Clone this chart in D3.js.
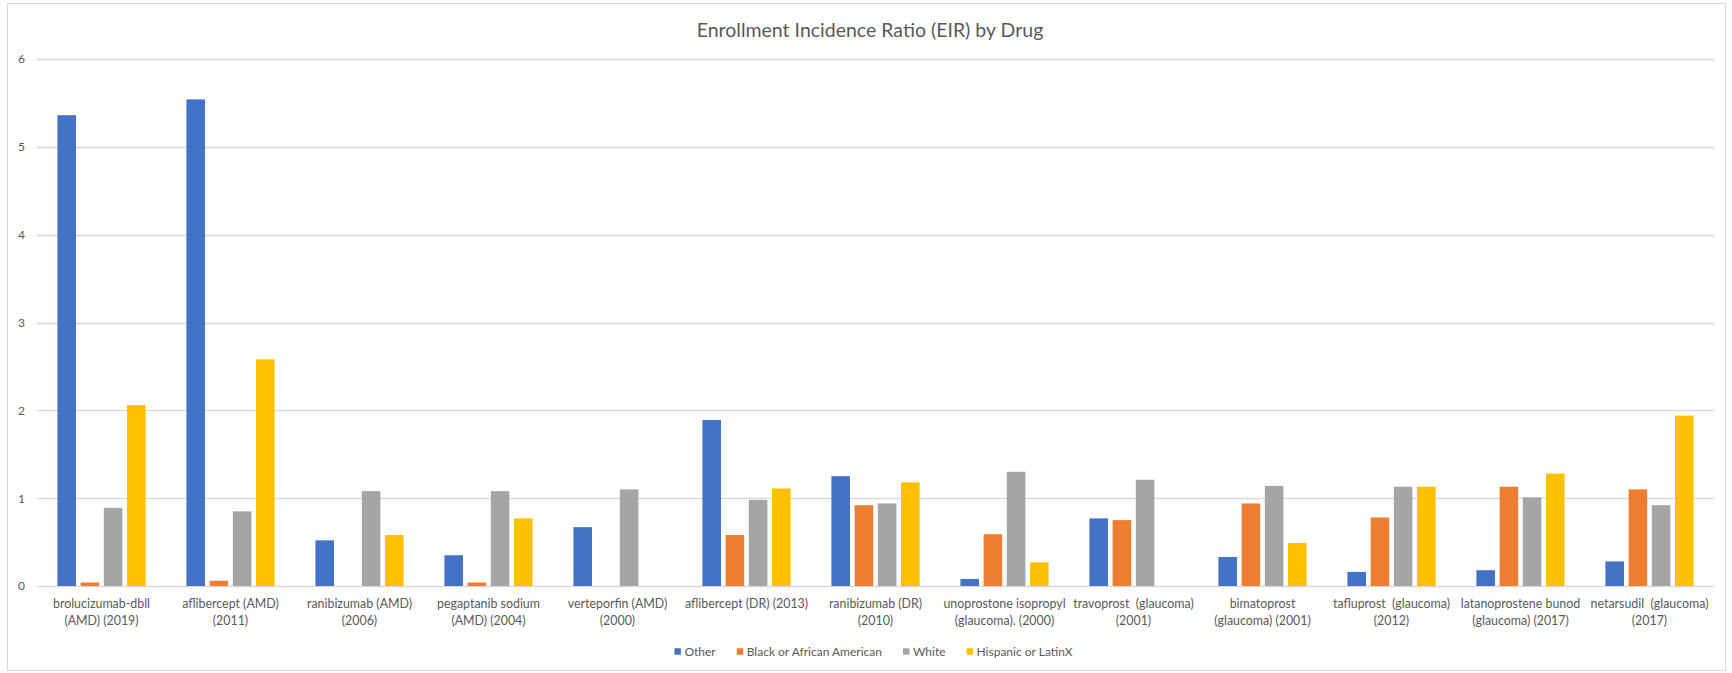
<!DOCTYPE html>
<html>
<head>
<meta charset="utf-8">
<title>Enrollment Incidence Ratio (EIR) by Drug</title>
<script src="https://cdn.jsdelivr.net/npm/d3@7"></script>
<style>
  html, body { margin: 0; padding: 0; background: #fff; }
  svg { display: block; font-family: Lato, "Open Sans", sans-serif; }
</style>
</head>
<body>
<script>
// Drug categories, one entry per wrapped tick label (line 1, line 2)
const drugLabels = [
  ["brolucizumab-dbll", "(AMD) (2019)"],
  ["aflibercept (AMD)", "(2011)"],
  ["ranibizumab (AMD)", "(2006)"],
  ["pegaptanib sodium", "(AMD) (2004)"],
  ["verteporfin (AMD)", "(2000)"],
  ["aflibercept (DR) (2013)"],
  ["ranibizumab (DR)", "(2010)"],
  ["unoprostone isopropyl", "(glaucoma). (2000)"],
  ["travoprost  (glaucoma)", "(2001)"],
  ["bimatoprost", "(glaucoma) (2001)"],
  ["tafluprost  (glaucoma)", "(2012)"],
  ["latanoprostene bunod", "(glaucoma) (2017)"],
  ["netarsudil  (glaucoma)", "(2017)"]
];

const seriesNames = ["Other", "Black or African American", "White", "Hispanic or LatinX"];
const seriesColors = ["#4472C4", "#ED7D31", "#A5A5A5", "#FFC000"];

// EIR values per drug, one array per group
const otherEIR    = [5.36, 5.54, 0.52, 0.35, 0.67, 1.89, 1.25, 0.08, 0.77, 0.33, 0.16, 0.18, 0.28];
const blackEIR    = [0.04, 0.06, 0.00, 0.04, 0.00, 0.58, 0.92, 0.59, 0.75, 0.94, 0.78, 1.13, 1.10];
const whiteEIR    = [0.89, 0.85, 1.08, 1.08, 1.10, 0.98, 0.94, 1.30, 1.21, 1.14, 1.13, 1.01, 0.92];
const hispanicEIR = [2.06, 2.58, 0.58, 0.77, 0.00, 1.11, 1.18, 0.27, 0.00, 0.49, 1.13, 1.28, 1.94];

const yTicks = [0, 1, 2, 3, 4, 5, 6];

const chartTitle = "Enrollment Incidence Ratio (EIR) by Drug";

// ---- layout ----
const W = 1732, H = 673;
const plot = { left: 37, right: 1714, top: 59, bottom: 586 };

const seriesValues = [otherEIR, blackEIR, whiteEIR, hispanicEIR];
const categoryIds = drugLabels.map((d, i) => i);

const svg = d3.select("body").append("svg")
  .attr("width", W).attr("height", H);

// chart area frame
svg.append("rect")
  .attr("x", 7.5).attr("y", 3.5)
  .attr("width", 1718).attr("height", 667)
  .attr("fill", "#fff")
  .attr("stroke", "#d9d9d9").attr("stroke-width", 1);

const x0 = d3.scaleBand()
  .domain(categoryIds)
  .range([plot.left, plot.right])
  .padding(0);

const x1 = d3.scaleBand()
  .domain(seriesNames)
  .range([0, x0.bandwidth()])
  .paddingInner(0.2)
  .paddingOuter(0.88);

const y = d3.scaleLinear()
  .domain([0, 6])
  .range([plot.bottom, plot.top]);

// horizontal gridlines
svg.append("g")
  .selectAll("line")
  .data(yTicks)
  .join("line")
  .attr("x1", plot.left).attr("x2", plot.right)
  .attr("y1", d => Math.round(y(d)) + 0.5)
  .attr("y2", d => Math.round(y(d)) + 0.5)
  .attr("stroke", "#d9d9d9")
  .attr("stroke-width", 1.3);

// y axis labels
const yAxis = d3.axisLeft(y).tickValues(yTicks).tickSize(0).tickPadding(0).tickFormat(d3.format("d"));
const yG = svg.append("g")
  .attr("transform", "translate(25,0)")
  .call(yAxis);
yG.select(".domain").remove();
yG.selectAll("text")
  .attr("fill", "#595959")
  .style("font-family", "Lato, 'Open Sans', sans-serif")
  .style("font-size", "12px");

// bars
const groups = svg.append("g")
  .selectAll("g")
  .data(categoryIds)
  .join("g")
  .attr("transform", i => `translate(${x0(i)},0)`);

groups.selectAll("rect")
  .data(i => seriesNames.map((s, k) => ({ series: s, k, value: seriesValues[k][i] })))
  .join("rect")
  .attr("x", d => x1(d.series))
  .attr("y", d => y(d.value))
  .attr("width", x1.bandwidth())
  .attr("height", d => y(0) - y(d.value))
  .attr("fill", d => seriesColors[d.k]);

// x axis category labels (wrapped)
const xAxis = d3.axisBottom(x0).tickSize(0).tickPadding(0).tickFormat(() => "");
const xG = svg.append("g")
  .attr("transform", `translate(0,${plot.bottom})`)
  .call(xAxis);
xG.select(".domain").remove();
xG.selectAll(".tick text").each(function (i) {
  const t = d3.select(this)
    .attr("fill", "#595959")
    .attr("y", 0)
    .attr("dy", null)
    .style("font-family", "Lato, 'Open Sans', sans-serif")
    .style("font-size", "12.4px");
  drugLabels[i].forEach((line, li) => {
    t.append("tspan")
      .attr("x", 0)
      .attr("y", 22 + li * 16.7)
      .attr("xml:space", "preserve")
      .style("white-space", "pre")
      .text(line);
  });
});

// title
svg.append("text")
  .attr("x", 870)
  .attr("y", 36.5)
  .attr("text-anchor", "middle")
  .attr("fill", "#595959")
  .style("font-size", "19.5px")
  .text(chartTitle);

// legend
const legend = svg.append("g");
const legendItems = legend.selectAll("g")
  .data(seriesNames)
  .join("g");
legendItems.append("rect")
  .attr("width", 6.5).attr("height", 6.5)
  .attr("y", -3.25)
  .attr("fill", (d, k) => seriesColors[k]);
legendItems.append("text")
  .attr("x", 10)
  .attr("y", 4.2)
  .attr("fill", "#595959")
  .style("font-size", "12px")
  .text(d => d);

let cursor = 0;
legendItems.each(function () {
  const g = d3.select(this);
  const w = 10 + g.select("text").node().getComputedTextLength();
  g.attr("transform", `translate(${cursor},0)`);
  cursor += w + 21;
});
const legendWidth = cursor - 21;
legend.attr("transform", `translate(${873.5 - legendWidth / 2},651.5)`);
</script>
</body>
</html>
